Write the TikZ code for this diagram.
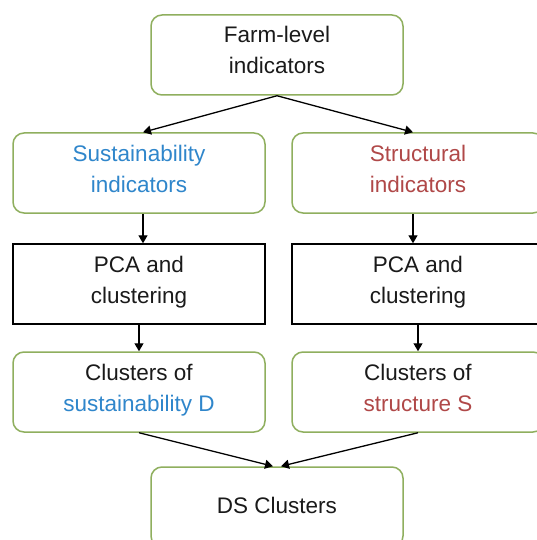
\documentclass[tikz,border=0pt]{standalone}
\usepackage{fontspec}
\setmainfont{Liberation Sans}
\usetikzlibrary{arrows.meta}
\definecolor{boxgreen}{HTML}{8FAF5E}
\definecolor{txtblue}{HTML}{2F86CB}
\definecolor{txtred}{HTML}{B04848}
\definecolor{txtgray}{HTML}{1A1A1A}
\tikzset{
  txt/.style={align=center, font=\fontsize{22.5}{31}\selectfont, text=txtgray, inner sep=0pt,
    execute at begin node=\strut, execute at end node=\strut},
  gbox/.style={txt, draw=boxgreen, line width=1.5pt, rounded corners=11pt, minimum width=252pt, minimum height=80pt},
  kbox/.style={txt, draw=black, line width=1.4pt, minimum width=252pt, minimum height=80pt},
  arr/.style={draw=black, line width=1.3pt, -{Triangle[length=8pt,width=9pt]}}
}
\begin{document}
\begin{tikzpicture}[x=1pt,y=-1pt]
\clip (0,0) rectangle (537,540);
\useasboundingbox (0,0) rectangle (537,540);
\fill[white] (0,0) rectangle (537,540);
\node[gbox] (farm) at (277,55) {Farm-level\\indicators};
\node[gbox] (sust) at (139,173) {\textcolor{txtblue}{Sustainability}\\\textcolor{txtblue}{indicators}};
\node[gbox] (stru) at (418,173) {\textcolor{txtred}{Structural}\\\textcolor{txtred}{indicators}};
\node[kbox] (pcal) at (139,284) {PCA and\\clustering};
\node[kbox] (pcar) at (418,284) {PCA and\\clustering};
\node[gbox] (cld) at (139,392) {Clusters of\\\textcolor{txtblue}{sustainability D}};
\node[gbox] (cls) at (418,392) {Clusters of\\\textcolor{txtred}{structure S}};
\node[gbox] (ds) at (277,507) {DS Clusters};
\draw[arr] (farm.south) -- ([xshift=4pt]sust.north);
\draw[arr] (farm.south) -- ([xshift=-5pt]stru.north);
\draw[arr] ([xshift=4pt]sust.south) -- ([xshift=4pt]pcal.north);
\draw[arr] ([xshift=-5pt]stru.south) -- ([xshift=-5pt]pcar.north);
\draw[arr] (pcal.south) -- (cld.north);
\draw[arr] (pcar.south) -- (cls.north);
\draw[arr] (cld.south) -- ([xshift=-4pt]ds.north);
\draw[arr] (cls.south) -- ([xshift=4pt]ds.north);
\end{tikzpicture}
\end{document}
